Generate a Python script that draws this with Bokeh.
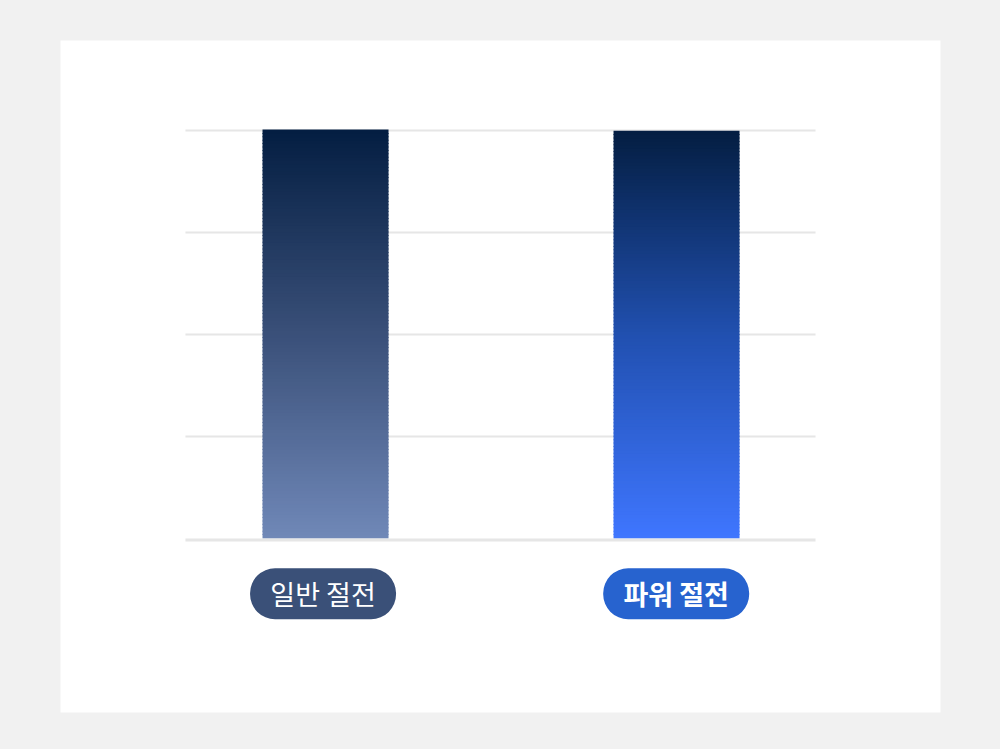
import numpy as np
from bokeh.plotting import figure
from bokeh.models import Range1d
from bokeh.core.properties import value
from bokeh.embed import file_html
from bokeh.resources import INLINE

# ---- data ----
categories = ["일반 절전", "파워 절전"]
values = [100.0, 99.7]
y_ticks = [0, 25, 50, 75, 100]

# ---- style ----
top_colors = ["#041e42", "#041e42"]
mid_colors = ["#3a5079", "#2150b0"]
bottom_colors = ["#7088b8", "#3f76ff"]
pill_colors = ["#3a5078", "#2763cf"]
pill_shift = [-0.007, -0.001]
label_weights = ["normal", "bold"]
FONT = "Noto Sans CJK KR"

xs = np.arange(len(categories), dtype=float)
bar_width = 0.359

p = figure(width=992, height=741, output_backend="svg", toolbar_location=None,
           x_range=Range1d(-0.755, 1.752), y_range=Range1d(-42.65, 122.06),
           min_border_left=60, min_border_right=52, min_border_top=40, min_border_bottom=29)
p.background_fill_color = "white"
p.border_fill_color = "#f1f1f1"
p.outline_line_color = None
p.xaxis.visible = False
p.yaxis.visible = False
p.xgrid.visible = False
p.ygrid.visible = False


def hex2rgb(h):
    h = h.lstrip("#")
    return np.array([int(h[i:i + 2], 16) for i in (0, 2, 4)], dtype=float)


def grad(c_top, c_mid, c_bot, t):
    # t = 0 at bottom, 1 at top
    a, b, c = hex2rgb(c_bot), hex2rgb(c_mid), hex2rgb(c_top)
    out = []
    for tt in t:
        if tt < 0.5:
            col = a + (b - a) * (tt / 0.5)
        else:
            col = b + (c - b) * ((tt - 0.5) / 0.5)
        out.append("#%02x%02x%02x" % tuple(int(round(v)) for v in col))
    return out

# grid lines (drawn across plot area only)
grid_left, grid_right = -0.399, 1.396
p.segment(x0=[grid_left] * (len(y_ticks) - 1), x1=[grid_right] * (len(y_ticks) - 1),
          y0=y_ticks[1:], y1=y_ticks[1:], line_color="#e6e6e6", line_width=2)

# gradient bars, built from bar values as stacked thin slices
N = 120
for i, v in enumerate(values):
    edges = np.linspace(0, v, N + 1)
    mids = (np.arange(N) + 0.5) / N
    cols = grad(top_colors[i], mid_colors[i], bottom_colors[i], mids)
    p.quad(left=xs[i] - bar_width / 2, right=xs[i] + bar_width / 2,
           bottom=edges[:-1], top=edges[1:] + v / N * 0.3,
           fill_color=cols, line_color=None)

# baseline
p.segment(x0=[grid_left], x1=[grid_right], y0=[y_ticks[0] - 0.4], y1=[y_ticks[0] - 0.4],
          line_color="#e6e6e6", line_width=3)

# category pills
label_y = -13.55
for i, c in enumerate(categories):
    p.rect(x=[xs[i] + pill_shift[i]], y=[label_y], width=146, height=51,
           width_units="screen", height_units="screen",
           fill_color=pill_colors[i], line_color=None, border_radius=25)
    p.text(x=[xs[i] + pill_shift[i]], y=[label_y], text=[c], text_color="white",
           text_align="center", text_baseline="middle",
           text_font=value(FONT), text_font_size="27px",
           text_font_style=label_weights[i])

html = file_html(p, INLINE)
html = html.replace("</head>", "<style>html,body{background:#f1f1f1;}</style></head>")
open("out.html", "w").write(html)
